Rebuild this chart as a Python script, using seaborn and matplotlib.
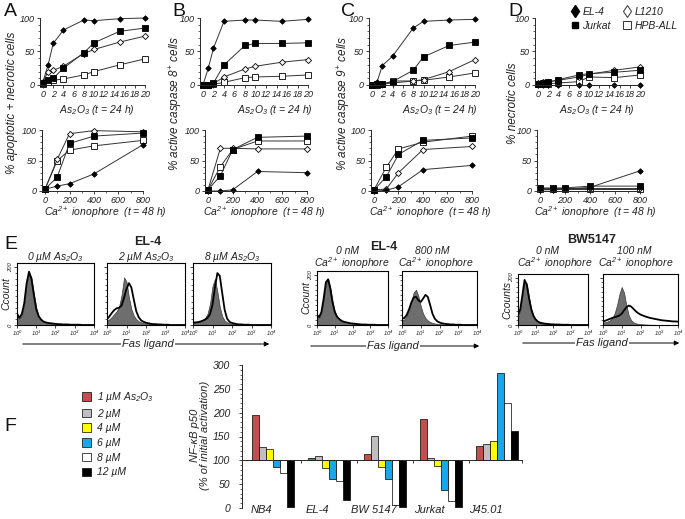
import numpy as np
import pandas as pd
import matplotlib
matplotlib.use("Agg")
import matplotlib.pyplot as plt
import seaborn as sns
from matplotlib.lines import Line2D
from matplotlib.patches import Patch, FancyArrowPatch

# ---------------- data: panels A-D ----------------
cells = ["EL-4", "Jurkat", "L1210", "HPB-ALL"]
as_dose = [0, 1, 2, 4, 8, 10, 15, 20]
ca_dose = [0, 100, 200, 400, 800]

A_as = {"EL-4": [5, 30, 62, 82, 97, 96, 99, 100],
        "Jurkat": [3, 8, 10, 25, 48, 63, 80, 85],
        "L1210": [5, 20, 22, 28, 47, 53, 64, 73],
        "HPB-ALL": [2, 5, 7, 9, 15, 20, 30, 39]}
A_ca = {"EL-4": [3, 8, 12, 28, 76],
        "Jurkat": [3, 23, 78, 90, 95],
        "L1210": [3, 52, 94, 99, 97],
        "HPB-ALL": [3, 50, 67, 74, 83]}
B_as = {"EL-4": [0, 25, 55, 95, 97, 97, 95, 98],
        "Jurkat": [0, 0, 3, 30, 59, 62, 62, 63],
        "L1210": [0, 0, 2, 12, 24, 28, 34, 38],
        "HPB-ALL": [0, 0, 1, 4, 11, 12, 13, 15]}
B_ca = {"EL-4": [0, 0, 2, 32, 30],
        "Jurkat": [2, 25, 68, 88, 90],
        "L1210": [2, 70, 70, 69, 69],
        "HPB-ALL": [2, 40, 68, 82, 82]}
C_as = {"EL-4": [0, 5, 29, 43, 85, 95, 97, 98],
        "Jurkat": [0, 2, 1, 5, 22, 42, 59, 64],
        "L1210": [0, 0, 1, 3, 6, 8, 20, 38],
        "HPB-ALL": [0, 0, 1, 6, 6, 7, 12, 18]}
C_ca = {"EL-4": [0, 1, 7, 35, 42],
        "Jurkat": [2, 23, 60, 83, 87],
        "L1210": [2, 3, 30, 68, 73],
        "HPB-ALL": [2, 39, 69, 80, 90]}
D_as = {"EL-4": [0, 0, 0, 0, 0, 0, 0, 0],
        "Jurkat": [2, 3, 4, 8, 15, 17, 19, 22],
        "L1210": [3, 5, 5, 7, 12, 16, 22, 27],
        "HPB-ALL": [1, 2, 2, 3, 5, 12, 11, 15]}
D_ca = {"EL-4": [2, 2, 3, 6, 33],
        "Jurkat": [5, 5, 5, 8, 8],
        "L1210": [5, 5, 5, 5, 5],
        "HPB-ALL": [3, 3, 3, 3, 3]}

# ---------------- data: panel E (flow histograms, 0.125-decade bins 10^0..10^4) ----------------
E1_ctrl = [30, 22, 35, 70, 140, 180, 165, 110, 60, 32, 20, 13, 9, 7, 6, 5, 4, 3, 3, 2, 2, 2, 1, 1, 1, 1]
E1_trt = [40, 25, 38, 75, 145, 185, 160, 105, 55, 30, 19, 12, 9, 7, 6, 5, 4, 3, 3, 2, 2, 2, 1, 1, 1, 1, 1]
E2_ctrl = [15, 20, 28, 38, 48, 65, 105, 165, 150, 95, 55, 32, 20, 13, 9, 7, 5, 4, 3, 3, 2, 2, 1, 1, 1]
E2_trt = [20, 30, 42, 52, 58, 60, 68, 95, 125, 145, 130, 88, 48, 27, 16, 11, 8, 6, 4, 3, 3, 2, 2, 1, 1, 1]
E3_ctrl = [8, 9, 10, 13, 17, 24, 40, 75, 135, 160, 115, 62, 30, 15, 9, 6, 4, 3, 2, 2, 1, 1, 1]
E3_trt = [8, 9, 10, 12, 15, 19, 25, 38, 70, 130, 180, 170, 110, 52, 22, 11, 7, 5, 3, 2, 2, 1, 1, 1]
E4_ctrl = [35, 30, 50, 100, 165, 185, 150, 95, 55, 35, 25, 18, 14, 12, 10, 8, 6, 5, 4, 3, 3, 2, 2, 1, 1, 1, 1]
E4_trt = [40, 32, 52, 105, 170, 182, 145, 90, 52, 33, 24, 17, 13, 11, 9, 7, 6, 5, 4, 3, 2, 2, 2, 1, 1, 1, 1]
E5_ctrl = [20, 22, 35, 60, 95, 130, 140, 115, 75, 45, 28, 18, 12, 8, 6, 5, 4, 3, 2, 2, 1, 1, 1]
E5_trt = [25, 28, 40, 62, 90, 110, 112, 98, 92, 105, 120, 112, 80, 45, 25, 15, 10, 7, 5, 4, 3, 2, 2, 1, 1, 1]
E6_ctrl = [40, 60, 120, 185, 175, 120, 70, 40, 25, 16, 11, 8, 6, 5, 4, 3, 3, 2, 2, 1, 1, 1, 1]
E6_trt = [45, 65, 125, 190, 170, 115, 68, 40, 24, 15, 10, 8, 6, 5, 4, 3, 3, 2, 2, 2, 1, 1, 1, 1]
E7_ctrl = [10, 12, 15, 20, 30, 50, 85, 130, 160, 135, 80, 40, 20, 11, 7, 5, 4, 3, 2, 2, 1, 1, 1]
E7_trt = [15, 18, 22, 26, 30, 33, 36, 40, 48, 62, 75, 82, 78, 68, 58, 50, 44, 40, 36, 33,
          30, 28, 26, 24, 22, 20, 19, 18, 17, 16, 15, 15, 14]

# ---------------- data: panel F ----------------
f_groups = ["NB4", "EL-4", "BW 5147", "Jurkat", "J45.01"]
f_doses = ["1 µM As$_2$O$_3$", "2 µM", "4 µM", "6 µM", "8 µM", "12 µM"]
f_colors = ["#c0504d", "#bfbfbf", "#ffff00", "#1aa6ea", "#ffffff", "#000000"]
f_nb4 = [195, 128, 123, 86, 74, 3]
f_el4 = [104, 110, 83, 60, 57, 17]
f_bw = [114, 151, 85, 60, 6, 3]
f_jurkat = [186, 104, 89, 37, 14, 3]
f_j45 = [130, 134, 140, 284, 220, 162]

# ---------------- style ----------------
W, H = 685, 519
sns.set_style("ticks")
plt.rcParams["font.family"] = ["Liberation Sans", "DejaVu Sans"]
plt.rcParams["font.style"] = "italic"
plt.rcParams["mathtext.default"] = "regular"
plt.rcParams["text.color"] = "#222222"
plt.rcParams["axes.labelcolor"] = "#222222"
plt.rcParams["xtick.color"] = "#222222"
plt.rcParams["ytick.color"] = "#222222"

fig = plt.figure(figsize=(W / 100, H / 100), dpi=100)


def rect(l, t, r, b):
    return [l / W, 1 - b / H, (r - l) / W, (b - t) / H]


def map_rect(xa, xb, pxa, pxb, xlim, ya, yb, pya, pyb, ylim):
    sx = (pxb - pxa) / (xb - xa)
    l = pxa + (xlim[0] - xa) * sx
    r = pxa + (xlim[1] - xa) * sx
    sy = (pyb - pya) / (yb - ya)
    b = pya + (ylim[0] - ya) * sy
    t = pya + (ylim[1] - ya) * sy
    return rect(l, t, r, b)


def ftext(x, y, s, **kw):
    return fig.text(x / W, 1 - y / H, s, **kw)


styles = {"EL-4": dict(marker="D", ms=2.8, mfc="k"),
          "Jurkat": dict(marker="s", ms=3.8, mfc="k"),
          "L1210": dict(marker="D", ms=3.1, mfc="white"),
          "HPB-ALL": dict(marker="s", ms=4.2, mfc="white")}
draw_order = ["HPB-ALL", "L1210", "Jurkat", "EL-4"]


def curve_panel(px0, px1, py0, py100, top, data):
    if top:
        xvals, xmax, xlim = as_dose, 20, (-0.6, 20.6)
    else:
        xvals, xmax, xlim = ca_dose, 800, (-25, 825)
    ylim = (0, 104)
    ax = fig.add_axes(map_rect(0, xmax, px0, px1, xlim, 0, 100, py0, py100, ylim))
    for c in draw_order:
        sns.lineplot(x=xvals, y=data[c], ax=ax, color="#333333", lw=0.7,
                     mec="k", mew=0.6, clip_on=False, **styles[c])
    ax.set_xlim(xlim)
    ax.set_ylim(ylim)
    if top:
        ax.set_xticks(range(0, 21, 2))
        ax.set_xticklabels([str(v) for v in range(0, 21, 2)])
    else:
        ax.set_xticks(range(0, 801, 200))
        ax.set_xticks(range(0, 801, 100), minor=True)
    ax.set_yticks([0, 50, 100])
    ax.set_yticks(range(0, 101, 10), minor=True)
    sns.despine(ax=ax)
    ax.spines["left"].set_bounds(0, 100)
    ax.spines["bottom"].set_bounds(xlim[0], xmax)
    for s in ("left", "bottom"):
        ax.spines[s].set_linewidth(0.7)
    ax.tick_params(which="major", direction="out", length=2.2, width=0.6, labelsize=6.5, pad=1.5)
    ax.tick_params(which="minor", direction="out", length=1.3, width=0.5)
    ax.set_xlabel("")
    ax.set_ylabel("")
    return ax


# top row (As2O3)
curve_panel(43, 145, 85, 18, True, A_as)
curve_panel(203, 308, 85, 18, True, B_as)
curve_panel(372, 475, 85, 18, True, C_as)
curve_panel(538, 640, 85, 18, True, D_as)
# second row (Ca ionophore)
curve_panel(45, 143, 191, 130, False, A_ca)
curve_panel(208, 307, 191, 130, False, B_ca)
curve_panel(374, 472, 191, 130, False, C_ca)
curve_panel(540, 640, 191, 130, False, D_ca)

as_lab = "As$_2$O$_3$ (t = 24 h)"
ca_lab = "Ca$^{2+}$ ionophore  (t = 48 h)"
for x in (97, 275, 440, 597):
    ftext(x, 110, as_lab, ha="center", va="center", fontsize=7.5)
for x in (105, 264, 430, 595):
    ftext(x, 212, ca_lab, ha="center", va="center", fontsize=7.5)

ylabs = [(12, "% apoptotic + necrotic cells"), (176, "% active caspase 8$^{+}$ cells"),
         (344, "% active caspase 9$^{+}$ cells"), (513, "% necrotic cells")]
for x, s in ylabs:
    ftext(x, 103, s, ha="center", va="center", rotation=90, fontsize=8.5)

for x, y, s in [(4, 3, "A"), (172, 3, "B"), (341, 3, "C"), (508, 3, "D"), (4, 236, "E"), (4, 418, "F")]:
    ftext(x, y, s, ha="left", va="top", fontsize=14, fontstyle="normal", color="#111111")

leg_handles = [
    Line2D([], [], ls="none", marker="d", ms=6.5, mfc="k", mec="k"),
    Line2D([], [], ls="none", marker="s", ms=5, mfc="k", mec="k"),
    Line2D([], [], ls="none", marker="d", ms=6.5, mfc="white", mec="#333333", mew=0.7),
    Line2D([], [], ls="none", marker="s", ms=5.5, mfc="white", mec="#333333", mew=0.7),
]
fig.legend(leg_handles, cells, loc="upper left", bbox_to_anchor=(571 / W, 1 - 7 / H), ncol=2,
           frameon=False, fontsize=7.5, handlelength=0.7, handletextpad=0.4,
           columnspacing=1.2, labelspacing=0.35, borderpad=0, borderaxespad=0)

# ---------------- panel E ----------------
fl = np.linspace(0, 4, 33)


def full(vals):
    return list(vals) + [0] * (33 - len(vals))


def hist_panel(box, ctrl, trt, ylab=None):
    l, t, r, b = box
    ax = fig.add_axes(rect(l, t, r, b))
    c = full(ctrl)
    ax.fill_between(fl, c, color="#6e6e6e", lw=0.5, edgecolor="#3a3a3a")
    sns.lineplot(x=fl, y=full(trt), ax=ax, color="k", lw=1.3)
    ax.set_xlim(0, 4)
    ax.set_ylim(0, 215)
    ax.set_xticks(range(5))
    ax.set_xticklabels(["$10^%d$" % i for i in range(5)])
    ax.set_yticks([0, 200])
    ax.set_yticks(range(0, 201, 20), minor=True)
    ax.tick_params(which="major", direction="out", length=2, width=0.6, labelsize=4.2, pad=1)
    ax.tick_params(which="minor", axis="y", direction="out", length=1.3, width=0.5)
    if ylab:
        ax.set_yticklabels(["0", "200"], rotation=90, va="center")
        ftext(l - 11, (t + b) / 2, ylab, rotation=90, ha="center", va="center", fontsize=7.5)
    else:
        ax.set_yticklabels([])
    ax.set_ylabel("")
    ax.set_xlabel("")
    for s in ax.spines.values():
        s.set_linewidth(0.8)
        s.set_color("k")
    return ax


hist_panel((17, 263, 94, 325), E1_ctrl, E1_trt, "Ccount")
hist_panel((107, 263, 185, 325), E2_ctrl, E2_trt)
hist_panel((193, 263, 271, 325), E3_ctrl, E3_trt)
hist_panel((317, 271, 388, 325), E4_ctrl, E4_trt, "Ccount")
hist_panel((402, 271, 477, 325), E5_ctrl, E5_trt)
hist_panel((518, 274, 588, 325), E6_ctrl, E6_trt, "Ccounts")
hist_panel((603, 274, 678, 325), E7_ctrl, E7_trt)

bold = dict(fontsize=9, fontweight="bold", fontstyle="normal", ha="center", va="center")
ftext(148, 242, "EL-4", **bold)
ftext(384, 247, "EL-4", **bold)
ftext(592, 240, "BW5147", **bold)
sub = dict(fontsize=7.5, ha="center", va="center")
ftext(55, 257, "0 µM As$_2$O$_3$", **sub)
ftext(146, 257, "2 µM As$_2$O$_3$", **sub)
ftext(232, 257, "8 µM As$_2$O$_3$", **sub)
ftext(348, 251, "0 nM", **sub)
ftext(352, 263, "Ca$^{2+}$ ionophore", **sub)
ftext(432, 251, "800 nM", **sub)
ftext(436, 263, "Ca$^{2+}$ ionophore", **sub)
ftext(548, 251, "0 nM", **sub)
ftext(555, 263, "Ca$^{2+}$ ionophore", **sub)
ftext(634, 251, "100 nM", **sub)
ftext(636, 263, "Ca$^{2+}$ ionophore", **sub)

for x0, x1, y, xt in [(20, 272, 344, 148), (308, 482, 346, 393), (520, 682, 343, 602)]:
    fig.add_artist(FancyArrowPatch((x0 / W, 1 - y / H), (x1 / W, 1 - y / H), transform=fig.transFigure,
                                   arrowstyle="-|>", mutation_scale=7, lw=0.7, color="k"))
    ftext(xt, y, "Fas ligand", ha="center", va="center", fontsize=8, zorder=5,
          bbox=dict(facecolor="white", edgecolor="none", pad=1))

# ---------------- panel F ----------------
rows = []
for g, vals in zip(f_groups, [f_nb4, f_el4, f_bw, f_jurkat, f_j45]):
    for d, v in zip(f_doses, vals):
        rows.append({"group": g, "dose": d, "delta": v - 100})
dfF = pd.DataFrame(rows)

xlimF = (-0.554, 4.446)
axF = fig.add_axes(map_rect(0, 4, 273, 497, xlimF, 0, 300, 508, 365, (0, 300)))
sns.barplot(data=dfF, x="group", y="delta", hue="dose", order=f_groups, hue_order=f_doses,
            palette=f_colors, saturation=1, width=0.74, gap=0, errorbar=None, legend=False,
            edgecolor="k", linewidth=0.5, bottom=100, ax=axF)
axF.set_xlim(xlimF)
axF.set_ylim(0, 300)
axF.set_yticks(range(0, 301, 50))
axF.set_yticks(range(0, 301, 10), minor=True)
axF.set_xticks([0.5, 1.5, 2.5, 3.5, 4.446], minor=True)
axF.set_xticks([])
sns.despine(ax=axF)
axF.spines["bottom"].set_position(("data", 100))
axF.spines["left"].set_linewidth(0.7)
axF.spines["bottom"].set_linewidth(0.7)
axF.tick_params(axis="y", which="major", direction="out", length=2.5, width=0.6, labelsize=7.5, pad=6)
axF.tick_params(axis="y", which="minor", direction="out", length=1.3, width=0.5)
axF.tick_params(axis="x", which="minor", direction="out", length=2.5, width=0.6)
axF.set_xlabel("")
axF.set_ylabel("")
for i, g in enumerate(f_groups):
    axF.text(i - 0.2, -5, g, ha="center", va="center", fontsize=8, clip_on=False)

ftext(200, 435, "NF-κB p50\n(% of initial activation)", ha="center", va="center",
      rotation=90, fontsize=8, linespacing=1.1)

f_handles = [Patch(facecolor=c, edgecolor="k", linewidth=0.5) for c in f_colors]
fig.legend(f_handles, f_doses, loc="upper left", bbox_to_anchor=(82 / W, 1 - 390 / H),
           frameon=False, fontsize=7.5, handlelength=0.9, handleheight=0.9, handletextpad=0.5,
           labelspacing=0.45, borderpad=0, borderaxespad=0)

fig.savefig("out.png", dpi=100)
